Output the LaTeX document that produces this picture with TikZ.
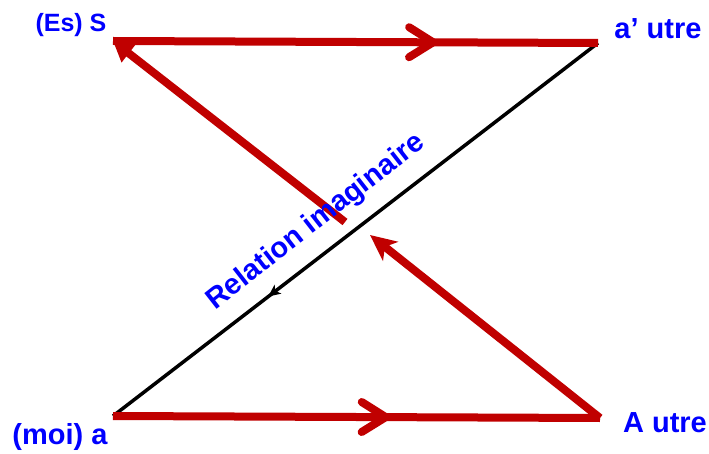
\documentclass[tikz,border=0pt]{standalone}
\usepackage{fontspec}
\setmainfont{Liberation Sans}
\usetikzlibrary{arrows.meta,decorations.markings}
\definecolor{redline}{RGB}{192,0,0}
\definecolor{labelblue}{RGB}{0,0,255}
\begin{document}
\begin{tikzpicture}[x=1pt,y=-1pt,
  redpath/.style={draw=redline,line width=8pt},
  lab/.style={text=labelblue,inner sep=0pt,font=\bfseries\fontsize{29}{31}\selectfont},
  chev/.style={postaction={decorate},decoration={markings,mark=at position #1 with {\draw[redline,line width=8pt,line cap=round,line join=round] (-24,-15) -- (0,0) -- (-24,15);}}},
  midarrow/.style={postaction={decorate},decoration={markings,mark=at position #1 with {\arrow{Stealth[length=12pt,width=11pt,inset=3pt]}}}}
]
\useasboundingbox (0,0) rectangle (709,454);
\coordinate (S) at (113,41);
\coordinate (Ap) at (598,43);
\coordinate (a) at (113,416);
\coordinate (A) at (600,418);
\coordinate (m1) at (345,222);
\coordinate (m2) at (370,235);

\draw[black,line width=3.5pt,midarrow=0.68] (Ap) -- (a);
\draw[redpath,chev=0.66] (S) -- (Ap);
\draw[redpath,chev=0.56] (a) -- (A);
\draw[redpath,-{Triangle[length=20pt,width=22pt]}] (m1) -- (S);
\draw[redpath,-{Stealth[length=26pt,width=24pt,inset=7pt]}] (A) -- (m2);

\node[lab,font=\bfseries\fontsize{25}{27}\selectfont] (lS) at (71,25) {(Es) S};
\node[lab] (lAp) at (658,29) {a’ utre};
\node[lab] (la) at (60,437) {(moi) a};
\node[lab] (lA) at (665,423) {A utre};
\node[lab,rotate=38] (rel) at (316,222) {Relation imaginaire};
\end{tikzpicture}
\end{document}
